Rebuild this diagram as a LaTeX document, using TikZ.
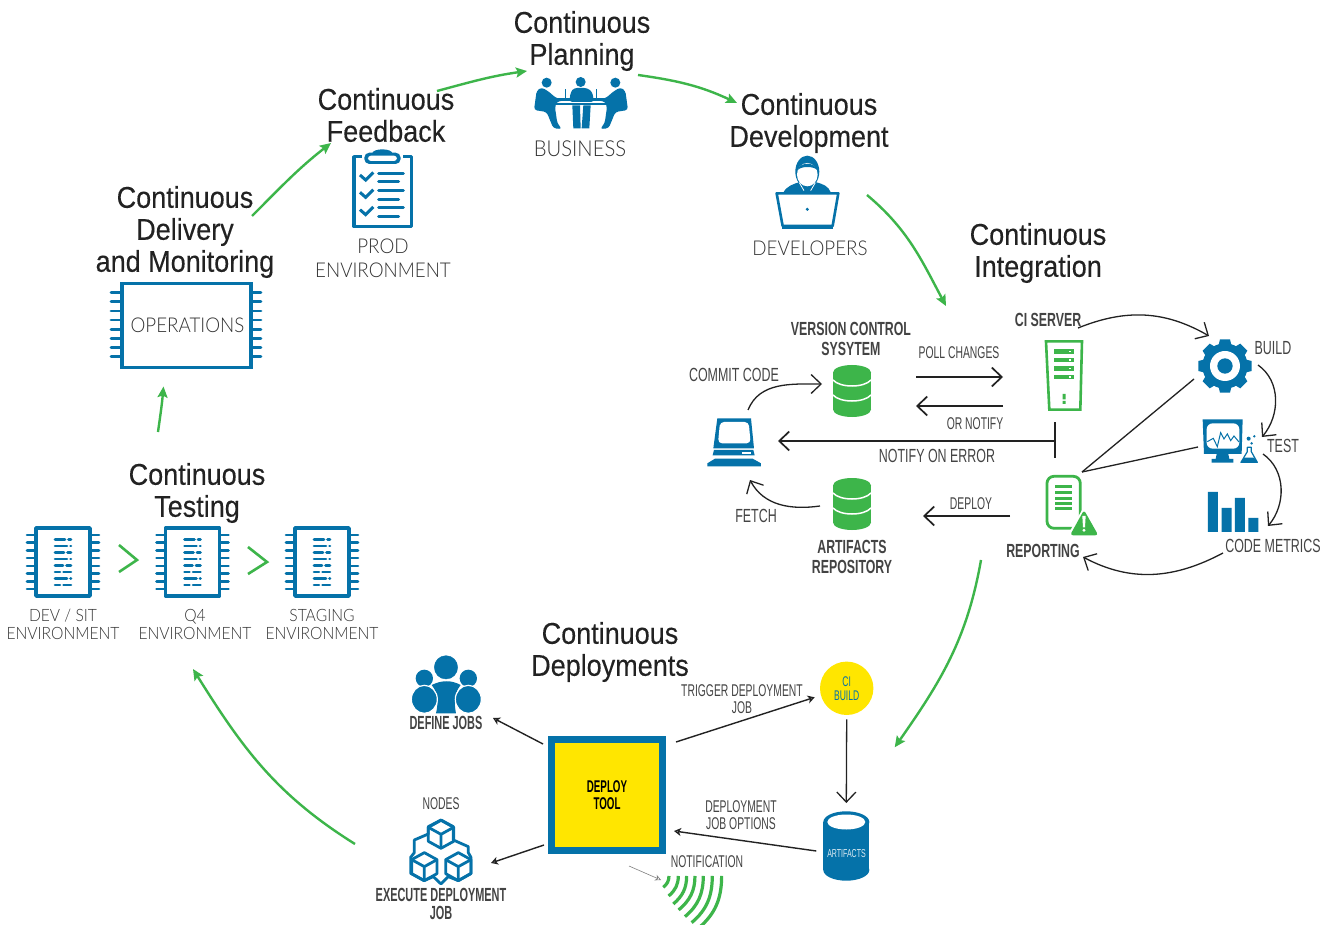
\documentclass[tikz,border=0pt]{standalone}
\usepackage{fontspec}
\setmainfont{Liberation Sans}
\newfontfamily\titlefont[FakeStretch=0.9,FakeBold=0.25]{Liberation Sans}
\newfontfamily\lightfont[FakeStretch=0.92]{Lato Light}
\newfontfamily\condfont[FakeStretch=0.655]{Liberation Sans}
\newfontfamily\condnarrow[FakeStretch=0.61]{Liberation Sans}
\newfontfamily\condboldfont[FakeStretch=0.65]{Liberation Sans Bold}
\newfontfamily\condboldnarrow[FakeStretch=0.575]{Liberation Sans Bold}
\usetikzlibrary{arrows.meta}
\definecolor{iconblue}{HTML}{0572A9}
\definecolor{icongreen}{HTML}{3DB54A}
\definecolor{ylw}{HTML}{FFE600}
\definecolor{ink}{HTML}{222222}
\definecolor{soft}{HTML}{444444}
\definecolor{softer}{HTML}{333333}
\tikzset{
  x=1pt,y=-1pt,
  heading/.style={align=center,inner sep=0pt,text=ink,font=\titlefont\fontsize{30}{32}\selectfont},
  envlabel/.style={align=center,inner sep=0pt,text=softer,font=\lightfont\fontsize{20.4}{24}\selectfont},
  envsmall/.style={align=center,inner sep=0pt,text=softer,font=\lightfont\fontsize{17}{18}\selectfont},
  cond/.style={align=center,inner sep=0pt,text=soft,font=\condfont\fontsize{19}{20}\selectfont},
  condsm/.style={align=center,inner sep=0pt,text=soft,font=\condnarrow\fontsize{17}{17}\selectfont},
  condbold/.style={align=center,inner sep=0pt,text=ink!85!white,font=\condboldfont\fontsize{19}{20}\selectfont},
  condboldsm/.style={align=center,inner sep=0pt,text=ink!85!white,font=\condboldnarrow\fontsize{19}{18}\selectfont},
  iconbox/.style={inner sep=0pt,draw=none,fill=none},
  flow/.style={draw=icongreen,line width=2.4pt,-{Stealth[length=11pt,width=10pt,inset=2pt]}},
  wire/.style={draw=ink,line width=1.7pt,-{Straight Barb[length=10pt,width=19pt,line width=1.7pt]}},
  curvewire/.style={draw=ink,line width=1.3pt,-{Straight Barb[length=10pt,width=19pt,line width=1.3pt]}},
  thinwire/.style={draw=ink,line width=1.4pt,-{Stealth[length=7pt,width=8pt,inset=2pt,open]}},
  wireplain/.style={draw=ink,line width=1.3pt},
  testchip/.pic={
    \draw[iconblue,line width=3.4pt,line join=round] (-27,-34) rectangle (27,34);
    \foreach \k in {-27,-19.4,-11.6,-3.9,3.9,11.6,19.4,27}{
      \draw[iconblue,line width=2.6pt,line cap=round] (-36,\k) -- (-28,\k) (28,\k) -- (36,\k);}
    \foreach \k/\m in {-22.5/2,-16/4,-9.5/1,-3/4,3.5/0,10/-3,16.5/4,23/-3}{
      \draw[iconblue,line width=2.6pt,line cap=round] (-8,\k) -- (\m,\k) (\m+3.5,\k) -- (8,\k);}
  },
  dbicon/.pic={
    \fill[icongreen] (-19,-18.5) rectangle (19,18.5);
    \fill[icongreen] (0,-18.5) ellipse[x radius=19,y radius=7.5];
    \fill[icongreen] (0,18.5) ellipse[x radius=19,y radius=7.5];
    \foreach \c in {-11,4}{
      \draw[white,line width=1.5pt] (-19,\c) .. controls (-12,\c+8) and (12,\c+8) .. (19,\c);}
  },
}
\begin{document}
\begin{tikzpicture}
\useasboundingbox (0,0) rectangle (1334,925);
\fill[white] (0,0) rectangle (1334,925);

% ---- headings
\node[heading] (planning) at (582,41) {Continuous\\Planning};
\node[heading] (feedback) at (386,115) {Continuous\\Feedback};
\node[heading] (development) at (809,123) {Continuous\\Development};
\node[heading] (integration) at (1038,253) {Continuous\\Integration};
\node[heading] (delivery) at (185,232) {Continuous\\Delivery\\and Monitoring};
\node[heading] (testing) at (197,493) {Continuous\\Testing};
\node[heading] (deployments) at (610,652) {Continuous\\Deployments};

% ---- business icon
\node[iconbox,minimum width=94pt,minimum height=54pt] (bizicon) at (581,103) {};
\begin{scope}[shift={(500,60)},x=0.3333pt,y=-0.3333pt]
  \fill[iconblue] (140,68) circle (15) (242,66) circle (15) (346,68) circle (15);
  \fill[iconblue,rounded corners=3pt] (125,82) -- (110,92) -- (102,150) -- (140,156) -- (160,205) -- (186,207) -- (172,190) -- (165,142) -- (170,125) -- (192,122) -- (165,112) -- (148,96) -- cycle;
  \fill[iconblue,rounded corners=3pt] (361,82) -- (376,92) -- (384,150) -- (346,156) -- (326,205) -- (300,207) -- (314,190) -- (321,142) -- (316,125) -- (294,122) -- (321,112) -- (338,96) -- cycle;
  \fill[iconblue,rounded corners=3pt] (222,84) -- (262,84) -- (277,96) -- (282,126) -- (208,126) -- (212,96) -- cycle;
  \fill[iconblue] (217,136) -- (240,136) -- (242,205) -- (220,205) -- cycle (250,136) -- (272,136) -- (268,205) -- (245,205) -- cycle;
  \draw[iconblue,line width=1pt] (196,88) -- (196,118) (290,88) -- (290,118);
  \fill[iconblue] (160,115) rectangle (325,122);
  \fill[iconblue] (142,129) rectangle (345,134);
\end{scope}
\node[envlabel,font=\lightfont\fontsize{22}{24}\selectfont] (business) at (580,149) {BUSINESS};

% ---- developer icon
\node[iconbox,minimum width=64pt,minimum height=72pt] (devicon) at (808,193) {};
\begin{scope}[shift={(500,60)},x=0.3333pt,y=-0.3333pt]
  \fill[iconblue] (850,398) .. controls (860,378) and (880,372) .. (900,366) -- (945,366) .. controls (970,372) and (985,378) .. (993,398) -- cycle;
  \fill[iconblue] (922,335) ellipse[x radius=36,y radius=48];
  \fill[white] (922,344) ellipse[x radius=31,y radius=35];
  \fill[iconblue] (893,330) .. controls (905,318) and (940,318) .. (952,330) .. controls (945,305) and (900,305) .. (893,330) -- cycle;
  \draw[white,line width=0.8pt] (898,368) -- (912,392) (946,368) -- (932,392);
  \draw[iconblue,fill=white,line width=2.6pt,line join=round] (830,400) -- (1015,400) -- (998,498) -- (848,498) -- cycle;
  \fill[iconblue] (845,498) rectangle (1000,507);
  \fill[iconblue] (922,448) circle (5);
\end{scope}
\node[envlabel] (developers) at (810,248) {DEVELOPERS};

% ---- clipboard icon
\node[iconbox,minimum width=62pt,minimum height=78pt] (prodicon) at (383,189) {};
\begin{scope}[shift={(100,140)},x=0.3333pt,y=-0.3333pt]
  \draw[iconblue,line width=3.2pt,line join=round] (762,50) rectangle (935,260);
  \fill[white] (786,30) rectangle (909,76);
  \fill[iconblue] (847,40) ellipse[x radius=30,y radius=12];
  \fill[iconblue,rounded corners=5pt] (793,38) rectangle (902,72);
  \fill[white,rounded corners=3pt] (804,47) rectangle (891,63);
  \foreach \k in {100,152,204}{
    \draw[iconblue,line width=3pt,line cap=round] (836,\k) -- (910,\k) (836,\k+26) -- (896,\k+26);
    \draw[iconblue,line width=3pt] (780,\k+5) -- (797,\k+20) -- (820,\k-3);}
\end{scope}
\node[envlabel] (prod) at (383,258) {PROD\\ENVIRONMENT};

% ---- operations chip
\node[draw=iconblue,line width=3.4pt,minimum width=129pt,minimum height=84pt,inner sep=0pt,text=softer,font=\lightfont\fontsize{20.4}{24}\selectfont] (operations) at (186.5,325.5) {\raisebox{-2pt}{\hspace{2pt}OPERATIONS}};
\foreach \k in {292.7,301.7,311,320,329.3,338.3,347.3,356.7}{
  \draw[iconblue,line width=2.8pt,line cap=round] (111,\k) -- (120,\k) (253,\k) -- (261,\k);}

% ---- testing chips
\node[iconbox,minimum width=72pt,minimum height=72pt] (chipa) at (63,562) {};
\node[iconbox,minimum width=72pt,minimum height=72pt] (chipb) at (192.5,562) {};
\node[iconbox,minimum width=72pt,minimum height=72pt] (chipc) at (322,562) {};
\pic at (63,562) {testchip};
\pic at (192.5,562) {testchip};
\pic at (322,562) {testchip};
\node[envsmall] (devsit) at (63,624) {DEV / SIT\\ENVIRONMENT};
\node[envsmall] (qfour) at (195,624) {Q4\\ENVIRONMENT};
\node[envsmall] (staging) at (322,624) {STAGING\\ENVIRONMENT};
\draw[icongreen,line width=2.6pt] (119,545) -- (137,560) -- (119,572);
\draw[icongreen,line width=2.6pt] (248,547) -- (267,562) -- (248,574);

% ---- CI area: workstation
\node[iconbox,minimum width=54pt,minimum height=50pt] (workstation) at (735,442) {};
\begin{scope}[shift={(680,310)},x=0.3333pt,y=-0.3333pt]
  \fill[iconblue] (112,325) -- (213,325) -- (222,415) -- (100,415) -- cycle;
  \fill[white,rounded corners=4pt] (120,336) -- (206,336) -- (212,400) -- (114,400) -- cycle;
  \fill[iconblue] (102,420) -- (220,420) -- (224,436) -- (98,436) -- cycle;
  \fill[white] (185,426) rectangle (212,432);
  \fill[iconblue] (105,446) -- (218,446) -- (243,460) -- (243,469) -- (82,469) -- (82,460) -- cycle;
\end{scope}

% ---- databases
\node[iconbox,minimum width=38pt,minimum height=52pt] (vcsdb) at (852,391) {};
\pic at (852,391) {dbicon};
\node[iconbox,minimum width=38pt,minimum height=52pt] (artdb) at (852,504) {};
\pic at (852,504) {dbicon};
\node[condbold] (vcs) at (851,339) {VERSION CONTROL\\SYSYTEM};
\node[condbold] (artrepo) at (852,557) {ARTIFACTS\\REPOSITORY};

% ---- server
\node[iconbox,minimum width=38pt,minimum height=72pt] (server) at (1064,375) {};
\begin{scope}[shift={(1000,310)},x=0.3333pt,y=-0.3333pt]
  \draw[icongreen,line width=2.6pt,line join=miter] (138,94) -- (246,94) -- (241,299) -- (148,299) -- cycle;
  \foreach \k in {118,143,169,195}{
    \fill[icongreen] (162,\k) rectangle (222,\k+13);
    \fill[white] (207,\k+4) rectangle (213,\k+9);}
  \fill[icongreen] (188,252) rectangle (197,268) (188,273) rectangle (197,282);
\end{scope}
\node[condbold] (ciserver) at (1048,320) {CI SERVER};

% ---- gear
\node[iconbox,minimum width=54pt,minimum height=54pt] (gear) at (1225,366) {};
\begin{scope}[shift={(1000,310)},x=0.3333pt,y=-0.3333pt]
  \foreach \a in {0,45,...,315}{
    \fill[iconblue,rotate around={\a:(675,168)}] (660,88) -- (690,88) -- (696,112) -- (654,112) -- cycle;}
  \fill[iconblue] (675,168) circle (68);
  \fill[white] (675,168) circle (45);
  \fill[iconblue] (675,168) circle (23);
\end{scope}
\node[cond] (build) at (1273,348) {BUILD};

% ---- test monitor
\node[iconbox,minimum width=56pt,minimum height=46pt] (testicon) at (1228,440) {};
\begin{scope}[shift={(1000,310)},x=0.3333pt,y=-0.3333pt]
  \fill[iconblue] (608,328) -- (728,328) -- (725,432) -- (612,432) -- cycle;
  \fill[white,rounded corners=6pt] (620,340) rectangle (718,416);
  \draw[iconblue,line width=1pt] (622,395) -- (640,385) -- (652,410) -- (662,368) -- (672,387) -- (682,372) -- (692,392) -- (702,378) -- (717,396);
  \fill[iconblue] (650,432) -- (685,432) -- (688,447) -- (700,447) -- (700,458) -- (635,458) -- (635,447) -- (647,447) -- cycle;
  \draw[iconblue,line width=1.2pt,fill=white,line join=round] (742,412) -- (754,412) -- (754,425) -- (772,457) -- (723,457) -- (742,425) -- cycle;
  \fill[iconblue] (733,443) -- (762,443) -- (772,457) -- (723,457) -- cycle;
  \fill[iconblue] (755,400) circle (4) (746,386) circle (6) (763,379) circle (4);
\end{scope}
\node[cond] (testlbl) at (1283,446) {TEST};

% ---- bars
\node[iconbox,minimum width=52pt,minimum height=42pt] (barsicon) at (1232,512) {};
\begin{scope}[shift={(1000,310)},x=0.3333pt,y=-0.3333pt]
  \fill[iconblue] (624,546) rectangle (654,666) (665,594) rectangle (695,666) (705,564) rectangle (735,666) (745,624) rectangle (775,666);
\end{scope}
\node[cond] (metrics) at (1273,546) {CODE METRICS};

% ---- report icon
\node[iconbox,minimum width=52pt,minimum height=60pt] (reporticon) at (1070,505) {};
\begin{scope}[shift={(1000,310)},x=0.3333pt,y=-0.3333pt]
  \draw[icongreen,line width=2.8pt,rounded corners=7pt] (141,499) rectangle (241,655);
  \foreach \k in {525,543,560,576,590}{\fill[icongreen] (165,\k) rectangle (216,\k+9);}
  \fill[white] (200,680) -- (252,590) -- (304,680) -- cycle;
  \fill[icongreen,rounded corners=3pt] (252,600) -- (295,676) -- (210,676) -- cycle;
  \fill[white] (247,618) -- (257,618) -- (255,652) -- (249,652) -- cycle;
  \fill[white] (252,661) circle (5);
\end{scope}
\node[condbold] (reporting) at (1043,551) {REPORTING};

% ---- CI labels
\node[condsm] (pollchanges) at (959,353) {POLL CHANGES};
\node[condsm] (ornotify) at (975,424) {OR NOTIFY};
\node[cond] (commit) at (734,375) {COMMIT CODE};
\node[cond] (notifyerr) at (937,456) {NOTIFY ON ERROR};
\node[cond] (fetch) at (756,516) {FETCH};
\node[condsm] (deploylbl) at (971,504) {DEPLOY};

% ---- deployment area
\node[draw=iconblue,fill=ylw,line width=7.4pt,minimum width=111pt,minimum height=111pt,inner sep=0pt,align=center,text=black,font=\condboldnarrow\fontsize{17}{17}\selectfont] (tool) at (607,795) {DEPLOY\\TOOL};
\node[circle,fill=ylw,minimum size=53.4pt,inner sep=0pt,align=center,text=iconblue,font=\condnarrow\fontsize{14}{14}\selectfont] (cibuild) at (846.7,688.3) {CI\\BUILD};

% cylinder
\node[iconbox,minimum width=46pt,minimum height=69pt] (cyl) at (846.3,846) {};
\fill[iconblue] (823.3,822) rectangle (869.3,870);
\fill[iconblue] (846.3,870) ellipse[x radius=23,y radius=10.7];
\fill[iconblue] (846.3,822) ellipse[x radius=23,y radius=10.7];
\fill[white] (846.3,822) ellipse[x radius=19,y radius=7.5];
\node[inner sep=0pt,text=white!85!iconblue,font=\condnarrow\fontsize{11.5}{12}\selectfont] (artifacts) at (846.5,854) {ARTIFACTS};

% define jobs icon
\node[iconbox,minimum width=70pt,minimum height=58pt] (jobsicon) at (446,685) {};
\begin{scope}[shift={(370,650)},x=0.3333pt,y=-0.3333pt]
  \fill[iconblue] (185,105) .. controls (215,90) and (245,90) .. (272,105) .. controls (252,130) and (252,160) .. (258,190) -- (198,190) .. controls (205,160) and (205,130) .. (185,105) -- cycle;
  \draw[iconblue,fill=iconblue] (228,52) circle (35);
  \fill[iconblue] (163,85) circle (26) (295,85) circle (26);
  \draw[white,line width=1.2pt,fill=iconblue] (163,148) ellipse[x radius=39,y radius=42];
  \draw[white,line width=1.2pt,fill=iconblue] (295,148) ellipse[x radius=39,y radius=42];
\end{scope}
\node[condboldsm] (definejobs) at (446,723) {DEFINE JOBS};

% nodes icon
\node[iconbox,minimum width=62pt,minimum height=66pt] (nodesicon) at (441,852) {};
\begin{scope}[shift={(370,650)},x=0.3333pt,y=-0.3333pt]
  \draw[iconblue,line width=2.8pt,line join=round] (213,510) -- (250,530) -- (250,570) -- (295,590) -- (295,608) -- (303,622) -- (303,670) -- (265,692) -- (235,680) -- (213,702) -- (190,680) -- (162,692) -- (122,670) -- (122,622) -- (133,608) -- (133,570) -- (175,552) -- (175,530) -- cycle;
  \foreach \cx/\cy in {213/553,163/650,265/650}{
    \draw[iconblue,line width=2.8pt,line join=round] (\cx,\cy-42) -- (\cx+38,\cy-21) -- (\cx+38,\cy+21) -- (\cx,\cy+42) -- (\cx-38,\cy+21) -- (\cx-38,\cy-21) -- cycle;
    \draw[iconblue,line width=2.8pt,line join=round] (\cx-38,\cy-21) -- (\cx,\cy) -- (\cx+38,\cy-21) (\cx,\cy) -- (\cx,\cy+42);}
\end{scope}
\node[condsm] (nodeslbl) at (441,804) {NODES};
\node[condboldsm] (executejob) at (441,904) {EXECUTE DEPLOYMENT\\JOB};

% wifi arcs
\node[iconbox,minimum width=60pt,minimum height=50pt] (wifi) at (693,900) {};
\begin{scope}
  \clip (650,870) rectangle (730,925);
  \begin{scope}[shift={(370,650)},x=0.3333pt,y=-0.3333pt]
    \foreach \xa/\xb/\yb in {897/880/712,925/896/738,950/910/762,975/926/780,1000/945/800,1027/965/818,1055/985/835}{
      \draw[icongreen,line width=3.2pt] (\xa,678) to[out=-90,in=40] (\xb,\yb);}
  \end{scope}
\end{scope}
\node[condsm] (notification) at (707,862) {NOTIFICATION};
\node[condsm] (triggerlbl) at (742,699) {TRIGGER DEPLOYMENT\\JOB};
\node[condsm] (optionslbl) at (741,815) {DEPLOYMENT\\JOB OPTIONS};

% ---- green flows
\draw[flow] ([shift={(51,-24)}]feedback.center) to[out=15,in=188] ([shift={(-55,30)}]planning.center);
\draw[flow] ([shift={(56,34)}]planning.center) to[out=-8,in=155] ([shift={(-72,-20)}]development.center);
\draw[flow] ([shift={(59,2)}]devicon.center) to[out=-40,in=118] ([shift={(-92,53)}]integration.center);
\draw[flow] ([shift={(67,-16)}]delivery.center) to[out=45,in=218] ([shift={(-55,28)}]feedback.center);
\draw[flow] ([shift={(-39,-61)}]testing.center) to[out=82,in=-95] ([shift={(-23,61)}]operations.center);
\draw[flow] ([shift={(-62,9)}]reporting.center) to[out=-100,in=55] ([shift={(48,59)}]cibuild.center);
\draw[flow] ([shift={(-86,-8)}]nodesicon.center) to[out=148,in=-58] ([shift={(-2,45)}]qfour.center);

% ---- black connectors
\draw[curvewire] ([shift={(13,-32)}]workstation.center) to[out=68,in=180] ([shift={(-30,-7)}]vcsdb.center);
\draw[wire] ([shift={(64,-14)}]vcsdb.center) -- ([shift={(-61,2)}]server.center);
\draw[wire] ([shift={(-61,31)}]server.center) -- ([shift={(64,15)}]vcsdb.center);
\coordinate (errorbar) at (1055,441);
\draw[wireplain] ([yshift=19pt]errorbar) -- ([yshift=-17pt]errorbar);
\draw[wire] (errorbar) -- ([shift={(43,-1)}]workstation.center);
\draw[curvewire] ([shift={(-32,2)}]artdb.center) to[out=188,in=-62] ([shift={(15,38)}]workstation.center);
\draw[wire] ([shift={(-60,11)}]reporticon.center) -- ([shift={(71,12)}]artdb.center);
\draw[curvewire] ([shift={(30,8)}]ciserver.center) to[out=22,in=150] ([shift={(-16,-30)}]gear.center);
\draw[curvewire] ([shift={(33,-1)}]gear.center) to[out=-35,in=50] ([shift={(34,-3)}]testicon.center);
\draw[curvewire] ([shift={(35,14)}]testicon.center) to[out=-35,in=50] ([shift={(36,14)}]barsicon.center);
\draw[curvewire] ([shift={(-50,7)}]metrics.center) to[out=208,in=-28] ([shift={(40,6)}]reporting.center);
\draw[wireplain] ([shift={(-31,13)}]gear.center) -- ([shift={(12,-33)}]reporticon.center);
\draw[wireplain] ([shift={(-30,7)}]testicon.center) -- ([shift={(12,-33)}]reporticon.center);

\draw[thinwire] ([shift={(-64,-51)}]tool.center) -- ([shift={(47,-5)}]definejobs.center);
\draw[thinwire] ([shift={(69,-53)}]tool.center) -- ([shift={(-32,9)}]cibuild.center);
\draw[curvewire] ([shift={(0,31)}]cibuild.center) -- ([shift={(0,-43)}]cyl.center);
\draw[thinwire] ([shift={(-30,5)}]cyl.center) -- ([shift={(67,36)}]tool.center);
\draw[thinwire] ([shift={(-63,50)}]tool.center) -- ([shift={(50,11)}]nodesicon.center);
\draw[draw=gray,line width=0.6pt,-{Stealth[length=6pt,width=6pt,inset=2pt,open]}] ([shift={(22,71)}]tool.center) -- ([shift={(-32,-20)}]wifi.center);
\end{tikzpicture}
\end{document}
